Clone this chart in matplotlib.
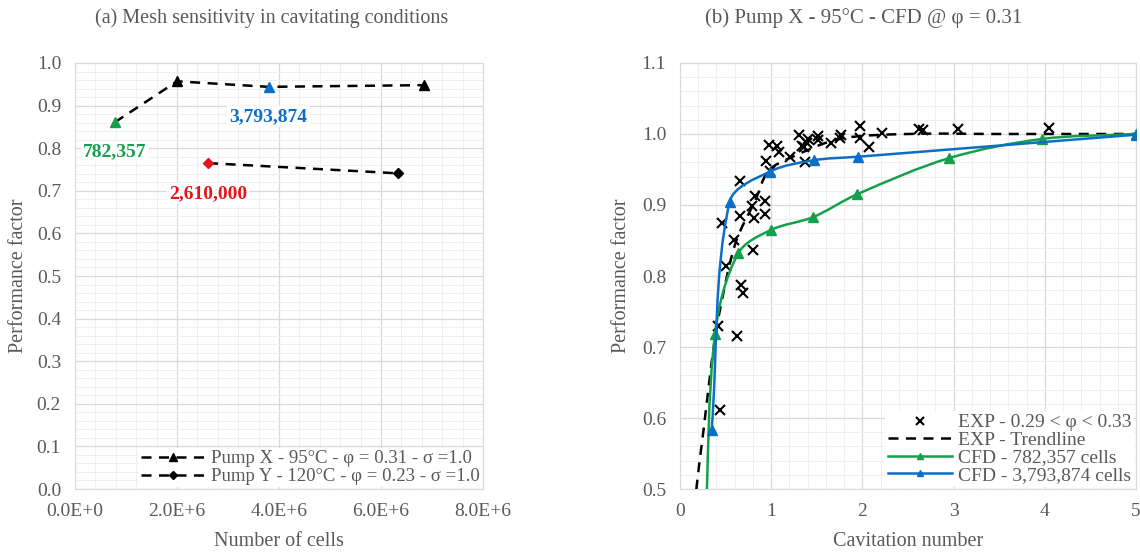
import numpy as np
import matplotlib
matplotlib.use("Agg")
import matplotlib.pyplot as plt
from matplotlib.path import Path
from matplotlib.patches import PathPatch
from matplotlib.lines import Line2D
from matplotlib.ticker import MultipleLocator, AutoMinorLocator, FuncFormatter

plt.rcParams['font.family'] = ['Liberation Serif', 'DejaVu Serif']

# ---- (a) mesh sensitivity ----
pumpx_cells = [782357, 2.0e6, 3793874, 6.84e6]
pumpx_perf = [0.861, 0.957, 0.944, 0.948]
pumpy_cells = [2610000, 6.34e6]
pumpy_perf = [0.765, 0.741]
pumpx_label = "Pump X - 95°C - φ = 0.31 - σ =1.0"
pumpy_label = "Pump Y - 120°C - φ = 0.23 - σ =1.0"
highlight = [("782,357", 782357, 0.792), ("3,793,874", 3793874, 0.874), ("2,610,000", 2610000, 0.694)]

# ---- (b) Pump X CFD vs EXP ----
exp_sigma = [0.437, 0.42, 0.63, 0.50, 0.665, 0.69, 0.80, 0.464, 0.59, 0.663,
             0.663, 0.79, 0.826, 0.808, 0.935, 0.928, 0.942, 0.989, 0.971, 1.062,
             1.08, 1.207, 1.37, 1.30, 1.34, 1.36, 1.39, 1.40, 1.514, 1.514,
             1.659, 1.768, 1.75, 1.978, 1.978, 2.076, 2.22, 2.62, 2.66, 3.05, 4.05]
exp_perf = [0.611, 0.73, 0.716, 0.814, 0.788, 0.776, 0.836, 0.875, 0.851, 0.934,
            0.885, 0.899, 0.913, 0.882, 0.906, 0.887, 0.962, 0.948, 0.984, 0.983,
            0.974, 0.967, 0.96, 0.998, 0.983, 0.981, 0.988, 0.993, 0.997, 0.991,
            0.988, 0.999, 0.995, 1.011, 0.994, 0.981, 1.002, 1.007, 1.005, 1.007, 1.008]
trend_sigma = [0.15, 0.179, 0.254, 0.32, 0.37, 0.45, 0.61, 0.83, 0.97, 1.22, 1.75, 2.5, 3.5, 5.0]
trend_perf = [0.45, 0.5, 0.579, 0.65, 0.70, 0.76, 0.847, 0.908, 0.948, 0.967, 0.993, 1.0, 1.0, 1.0]
coarse_sigma = [0.28, 0.384, 0.638, 1.0, 1.46, 1.94, 2.95, 3.97, 5.0]
coarse_perf = [0.45, 0.719, 0.832, 0.865, 0.883, 0.915, 0.966, 0.993, 1.0]
fine_sigma = [0.347, 0.543, 0.985, 1.465, 1.955, 5.0]
fine_perf = [0.583, 0.904, 0.947, 0.963, 0.968, 0.999]

GREEN = '#13a04a'
BLUE = '#0b6fc6'
RED = '#e8141b'
GRAY = '#595959'
FS = 14


def smooth_path(ax, xs, ys):
    # smoothed line through the points, built in screen space
    # (cubic bezier, tangents weighted by chord length)
    pts = ax.transData.transform(np.column_stack([xs, ys]))
    n = len(pts)
    verts = [pts[0]]
    codes = [Path.MOVETO]
    for i in range(n - 1):
        p0 = pts[i - 1] if i > 0 else pts[i]
        p1 = pts[i]
        p2 = pts[i + 1]
        p3 = pts[i + 2] if i + 2 < n else pts[i + 1]
        L0 = np.hypot(*(p1 - p0))
        L1 = np.hypot(*(p2 - p1))
        L2 = np.hypot(*(p3 - p2))
        c1 = p1 + (p2 - p0) * L1 / max(L0 + L1, 1e-9) / 3.0
        c2 = p2 - (p3 - p1) * L1 / max(L1 + L2, 1e-9) / 3.0
        verts += [c1, c2, p2]
        codes += [Path.CURVE4] * 3
    verts = ax.transData.inverted().transform(np.array(verts))
    return Path(verts, codes)


def sci_fmt(v, pos):
    if v == 0:
        return "0.0E+0"
    e = int(np.floor(np.log10(abs(v))))
    return "%.1fE+%d" % (v / 10 ** e, e)


def style_axes(ax):
    ax.grid(which='major', color='#d9d9d9', linewidth=0.9)
    ax.grid(which='minor', color='#efefef', linewidth=0.7)
    ax.set_axisbelow(True)
    for s in ax.spines.values():
        s.set_color('#d9d9d9')
    ax.tick_params(which='both', length=0, labelsize=FS, labelcolor=GRAY)
    ax.tick_params(axis='y', pad=10)
    ax.tick_params(axis='x', pad=10)


fig = plt.figure(figsize=(11.4, 5.54), dpi=100)
ax1 = fig.add_axes([0.0658, 0.1173, 0.3579, 0.7690])
ax2 = fig.add_axes([0.5965, 0.1173, 0.4000, 0.7690])

# left panel
ax1.set_xlim(0, 8e6)
ax1.set_ylim(0, 1.0)
ax1.plot(pumpx_cells, pumpx_perf, color='black', lw=1.8, dashes=(4, 3), zorder=3)
ax1.plot(pumpy_cells, pumpy_perf, color='black', lw=1.8, dashes=(4, 3), zorder=3)
ax1.plot(pumpx_cells[0], pumpx_perf[0], '^', color=GREEN, ms=7, zorder=4)
ax1.plot(pumpx_cells[1], pumpx_perf[1], '^', color='black', ms=7, zorder=4)
ax1.plot(pumpx_cells[2], pumpx_perf[2], '^', color=BLUE, ms=7, zorder=4)
ax1.plot(pumpx_cells[3], pumpx_perf[3], '^', color='black', ms=7, zorder=4)
ax1.plot(pumpy_cells[0], pumpy_perf[0], 'D', color=RED, ms=5, zorder=4)
ax1.plot(pumpy_cells[1], pumpy_perf[1], 'D', color='black', ms=5, zorder=4)
for (txt, xv, yv), c in zip(highlight, [GREEN, BLUE, RED]):
    ax1.text(xv, yv, txt, color=c, fontsize=14, fontweight='bold', ha='center', va='center',
             bbox=dict(facecolor='white', edgecolor='none', pad=1.5), zorder=5)

ax1.xaxis.set_major_locator(MultipleLocator(2e6))
ax1.xaxis.set_minor_locator(AutoMinorLocator(5))
ax1.yaxis.set_major_locator(MultipleLocator(0.1))
ax1.yaxis.set_minor_locator(AutoMinorLocator(5))
ax1.xaxis.set_major_formatter(FuncFormatter(sci_fmt))
ax1.yaxis.set_major_formatter(FuncFormatter(lambda v, p: "%.1f" % v))
style_axes(ax1)
ax1.set_xlabel("Number of cells", fontsize=14.5, color=GRAY, labelpad=9)
ax1.set_ylabel("Performance factor", fontsize=14.5, color=GRAY, labelpad=6)
h1 = [Line2D([], [], color='black', lw=1.8, dashes=(4, 3), marker='^', ms=6),
      Line2D([], [], color='black', lw=1.8, dashes=(4, 3), marker='D', ms=4.5)]
leg1 = ax1.legend(h1, [pumpx_label, pumpy_label], loc='lower right', fontsize=13.5,
                  frameon=True, fancybox=False, edgecolor='none', framealpha=1,
                  handlelength=3.4, handletextpad=0.3, labelspacing=0.05,
                  borderpad=0.1, borderaxespad=0.1)
for t in leg1.get_texts():
    t.set_color(GRAY)

# right panel
ax2.set_xlim(0, 5)
ax2.set_ylim(0.5, 1.1)
ax2.plot(exp_sigma, exp_perf, 'x', color='black', ms=7, mew=1.5, zorder=3)
ax2.add_patch(PathPatch(smooth_path(ax2, trend_sigma, trend_perf), fill=False,
                        edgecolor='black', lw=1.8, linestyle=(0, (4, 3)), zorder=3))
ax2.add_patch(PathPatch(smooth_path(ax2, coarse_sigma, coarse_perf), fill=False,
                        edgecolor=GREEN, lw=1.8, zorder=4))
ax2.plot(coarse_sigma, coarse_perf, '^', color=GREEN, ms=7, zorder=4)
ax2.add_patch(PathPatch(smooth_path(ax2, fine_sigma, fine_perf), fill=False,
                        edgecolor=BLUE, lw=1.8, zorder=5))
ax2.plot(fine_sigma, fine_perf, '^', color=BLUE, ms=7, zorder=5)
ax2.set_xlim(0, 5)
ax2.set_ylim(0.5, 1.1)

ax2.xaxis.set_major_locator(MultipleLocator(1))
ax2.xaxis.set_minor_locator(AutoMinorLocator(5))
ax2.yaxis.set_major_locator(MultipleLocator(0.1))
ax2.yaxis.set_minor_locator(AutoMinorLocator(5))
ax2.yaxis.set_major_formatter(FuncFormatter(lambda v, p: "%.1f" % v))
style_axes(ax2)
ax2.set_xlabel("Cavitation number", fontsize=14.5, color=GRAY, labelpad=9)
ax2.set_ylabel("Performance factor", fontsize=14.5, color=GRAY, labelpad=8)
h2 = [Line2D([], [], color='black', ls='none', marker='x', ms=6, mew=1.5),
      Line2D([], [], color='black', lw=1.8, dashes=(4, 3)),
      Line2D([], [], color=GREEN, lw=1.8, marker='^', ms=5),
      Line2D([], [], color=BLUE, lw=1.8, marker='^', ms=5)]
leg2 = ax2.legend(h2, ["EXP - 0.29 < φ < 0.33", "EXP - Trendline",
                       "CFD - 782,357 cells", "CFD - 3,793,874 cells"],
                  loc='lower right', fontsize=FS, frameon=True, fancybox=False,
                  edgecolor='none', framealpha=1, handlelength=3.3, handletextpad=0.3,
                  labelspacing=0.0, borderpad=0.15, borderaxespad=0.1)
for t in leg2.get_texts():
    t.set_color(GRAY)

fig.text(0.2386, 0.967, "(a) Mesh sensitivity in cavitating conditions", ha='center',
         va='center', fontsize=14.5, color=GRAY)
fig.text(0.758, 0.967, "(b) Pump X - 95°C - CFD @ φ = 0.31", ha='center',
         va='center', fontsize=15, color=GRAY)

fig.savefig("out.png", dpi=100)
